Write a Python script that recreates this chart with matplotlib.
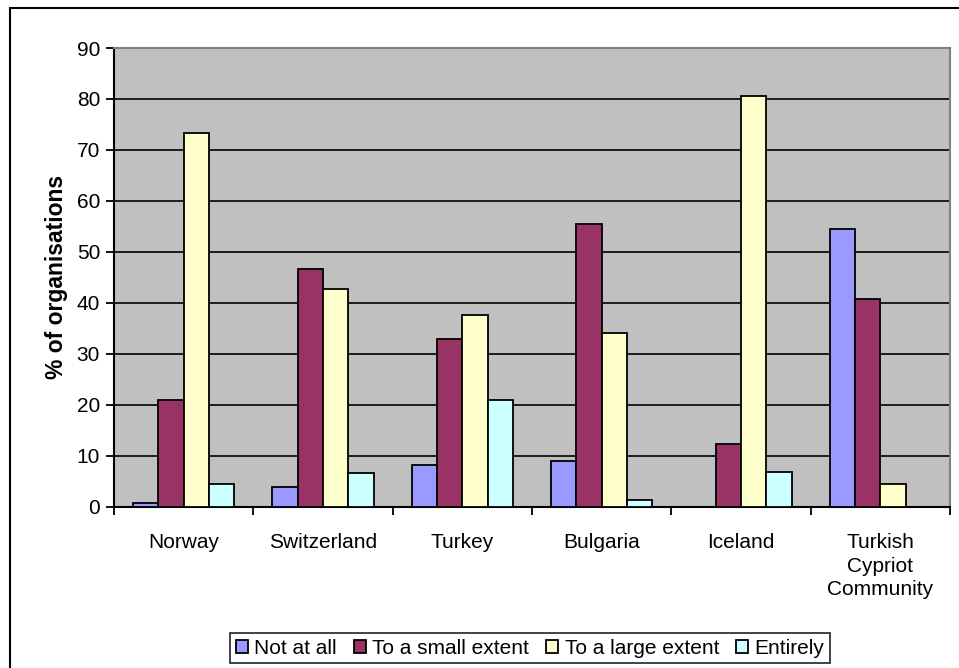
import matplotlib
matplotlib.use("Agg")
import matplotlib.pyplot as plt
import matplotlib.patches as mpatches
import numpy as np

plt.rcParams['font.family'] = ['Liberation Sans', 'DejaVu Sans']

countries = ["Norway", "Switzerland", "Turkey", "Bulgaria", "Iceland",
             "Turkish\nCypriot\nCommunity"]
series = ["Not at all", "To a small extent", "To a large extent", "Entirely"]
not_at_all = [0.7, 3.8, 8.1, 8.9, 0.0, 54.5]
small_extent = [21.0, 46.7, 32.9, 55.4, 12.4, 40.8]
large_extent = [73.4, 42.8, 37.6, 34.0, 80.5, 4.5]
entirely = [4.5, 6.6, 21.0, 1.4, 6.9, 0.0]
colors = ["#9999ff", "#993366", "#ffffcc", "#ccffff"]

values = [not_at_all, small_extent, large_extent, entirely]

fig = plt.figure(figsize=(9.59, 6.68), dpi=100)
ax = fig.add_axes([114 / 959, 1 - 506.7 / 668, (950 - 114) / 959, (506.7 - 48) / 668])
ax.set_facecolor("#c0c0c0")

# outer chart border (right/bottom edges fall outside the image)
fig.patches.append(mpatches.Rectangle((10 / 959, -0.05), 1.1, 1 - 8 / 668 + 0.05,
                                      transform=fig.transFigure, fill=False,
                                      edgecolor="black", linewidth=1.5, zorder=0))

x = np.arange(len(countries))
w = 1 / 5.5
for i, (name, vals) in enumerate(zip(series, values)):
    ax.bar(x + (i - 1.5) * w, vals, w, color=colors[i], edgecolor="black",
           linewidth=1.3, label=name, zorder=3)

ax.set_xlim(-0.5, len(countries) - 0.5)
ax.set_ylim(0, 90)
ax.set_yticks(np.arange(0, 91, 10))
ax.yaxis.grid(True, color="black", linewidth=1.2, zorder=1)
ax.set_axisbelow(True)

ax.set_xticks(np.arange(-0.5, len(countries), 1))
ax.set_xticklabels([])
ax.set_xticks(x, minor=True)
ax.set_xticklabels(countries, minor=True, fontsize=15, linespacing=1.3)
ax.tick_params(axis="x", which="minor", length=0, pad=19)
ax.tick_params(axis="x", which="major", length=6, width=1.3, direction="out")
ax.tick_params(axis="y", length=6, width=1.3, labelsize=15, pad=4)

for s in ["left", "bottom"]:
    ax.spines[s].set_linewidth(1.5)
    ax.spines[s].set_color("black")
for s in ["top", "right"]:
    ax.spines[s].set_linewidth(1.5)
    ax.spines[s].set_color("#808080")

ax.set_ylabel("% of organisations", fontsize=16.5, fontweight="bold", labelpad=6)

leg = fig.legend(loc="center", bbox_to_anchor=(530 / 959, 1 - 648 / 668), ncol=4,
                 fontsize=15, frameon=True, fancybox=False, edgecolor="black",
                 handlelength=0.6, handleheight=0.6, handletextpad=0.3,
                 columnspacing=0.8, borderpad=0.25)
leg.get_frame().set_linewidth(1.3)

fig.savefig("out.png", dpi=100)
